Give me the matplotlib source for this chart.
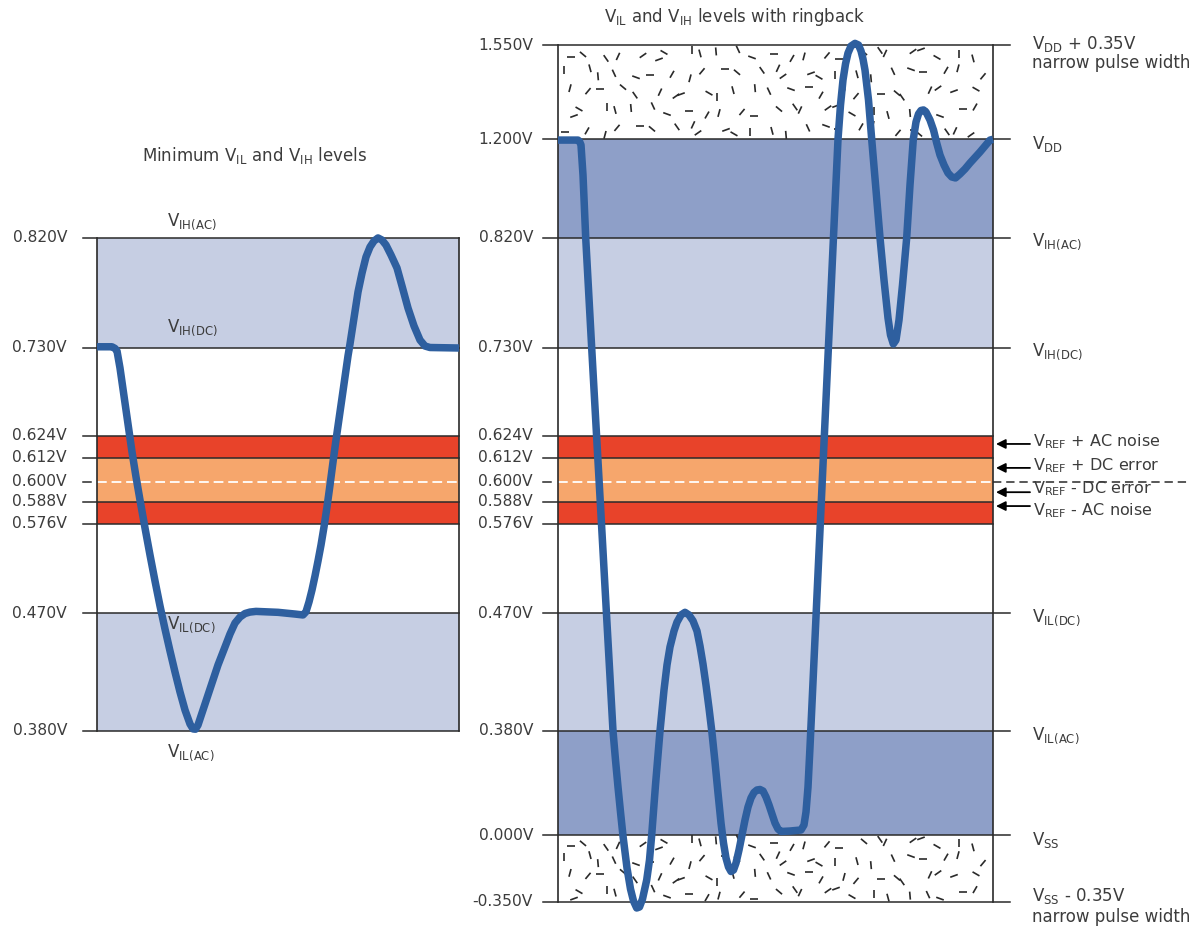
import numpy as np
import matplotlib
matplotlib.use("Agg")
import matplotlib.pyplot as plt
from matplotlib.collections import LineCollection
from matplotlib.transforms import IdentityTransform

# ---------------- data ----------------
LEFT_LEVELS = [0.380, 0.470, 0.576, 0.588, 0.600, 0.612, 0.624, 0.730, 0.820]
RIGHT_LEVELS = [-0.350, 0.000, 0.380, 0.470, 0.576, 0.588, 0.600, 0.612, 0.624,
                0.730, 0.820, 1.200, 1.550]
BAND_LEVELS = [0.576, 0.588, 0.612, 0.624]
VREF = 0.600

# left waveform (time in arbitrary units, voltage in V)
LEFT_T = [0, 15, 18, 20, 23, 27, 31, 35, 39, 43, 48, 53, 58, 63, 68, 73, 78, 83,
          88, 93, 96, 98.5, 101, 105, 110, 115, 121, 128, 133, 138, 143, 148,
          153, 159, 181, 198, 206, 209, 212, 215, 218, 221, 224, 227, 230, 233,
          236, 239, 242, 245, 248, 251, 253, 257, 261, 265, 269, 273, 277, 281,
          285, 289, 294, 300, 305, 311, 317, 323, 328, 333, 362]
LEFT_V = [0.731, 0.731, 0.7295, 0.7265, 0.7059, 0.6722, 0.6385, 0.6152, 0.6024,
          0.589, 0.5707, 0.5387, 0.5079, 0.4784, 0.4577, 0.4409, 0.4248, 0.4095,
          0.3957, 0.385, 0.3812, 0.381, 0.3842, 0.3934, 0.4049, 0.4164, 0.4302,
          0.444, 0.4539, 0.4623, 0.4669, 0.4696, 0.4711, 0.4719, 0.4708, 0.4692,
          0.4685, 0.4715, 0.4831, 0.4973, 0.5138, 0.5316, 0.5505, 0.5719, 0.5851,
          0.598, 0.6098, 0.6218, 0.6445, 0.6697, 0.6951, 0.7204, 0.7333, 0.7545,
          0.7757, 0.7911, 0.8043, 0.8124, 0.8173, 0.8198, 0.8181, 0.814, 0.8059,
          0.7953, 0.7806, 0.7626, 0.748, 0.7365, 0.7316, 0.7304, 0.730]

# right waveform (ringback)
RIGHT_T = [0, 20, 21.5, 23, 25, 27.7, 33.7, 38.7, 42, 45, 48.7, 52, 55, 57.5, 60,
           62.5, 65, 69, 72.5, 75.5, 78.7, 81.5, 84.5, 88.7, 91.5, 93.7, 97.5,
           102, 106, 109, 112, 116, 119, 123, 127, 131, 135, 139, 142, 145, 148,
           151, 154, 157, 160, 163, 165.5, 168, 170.5, 173, 175.5, 178, 181, 184,
           187, 190, 193, 196, 199, 202, 205, 208, 211, 214, 217, 220, 223, 232,
           243, 246, 248, 250, 252, 255, 258.7, 262, 266, 269.5, 273, 276.5, 280,
           282.5, 285, 287.5, 290, 293, 297, 300.5, 303, 305, 307, 310.5, 313.7,
           318, 322, 326, 330, 332.5, 335.3, 338, 341, 344.5, 348.7, 352, 355.3,
           358, 360.5, 363, 365.5, 368, 372, 375.5, 378.7, 382, 386, 390, 393.7,
           397.5, 402, 407, 412, 422, 432, 435]
RIGHT_V = [1.197, 1.197, 1.192, 1.178, 1.062, 0.820, 0.730, 0.6229, 0.5908,
           0.5434, 0.4662, 0.421, 0.378, 0.2727, 0.1746, 0.0836, -0.0052, -0.1724,
           -0.2821, -0.3448, -0.3814, -0.3761, -0.3343, -0.2351, -0.1306, 0.000,
           0.182, 0.378, 0.411, 0.4302, 0.444, 0.4562, 0.463, 0.4685, 0.4708,
           0.4685, 0.464, 0.4562, 0.4447, 0.4309, 0.4148, 0.3972, 0.3709, 0.2655,
           0.1528, 0.0436, -0.0418, -0.1202, -0.1672, -0.1907, -0.1829, -0.1463,
           -0.0784, 0.000, 0.0546, 0.1018, 0.1346, 0.1546, 0.1637, 0.1655, 0.160,
           0.1382, 0.1091, 0.0764, 0.0437, 0.0218, 0.0127, 0.0145, 0.0182, 0.0364,
           0.0837, 0.1746, 0.320, 0.4171, 0.4835, 0.5683, 0.6201, 0.7071, 0.7765,
           0.908, 1.200, 1.327, 1.420, 1.4795, 1.520, 1.546, 1.556, 1.550, 1.528,
           1.498, 1.457, 1.346, 1.200, 1.004, 0.820, 0.7855, 0.7545, 0.7406,
           0.7333, 0.7365, 0.7528, 0.7814, 0.820, 1.0236, 1.200, 1.2642, 1.294,
           1.307, 1.309, 1.3013, 1.2717, 1.2345, 1.1857, 1.1394, 1.1008, 1.070,
           1.0546, 1.0507, 1.066, 1.0854, 1.1085, 1.151, 1.197, 1.200]

LEFT_TITLE = r"Minimum V$_{\mathrm{IL}}$ and V$_{\mathrm{IH}}$ levels"
RIGHT_TITLE = r"V$_{\mathrm{IL}}$ and V$_{\mathrm{IH}}$ levels with ringback"

LEFT_NAMES = [(0.820, r"V$_{\mathrm{IH(AC)}}$", 16), (0.730, r"V$_{\mathrm{IH(DC)}}$", 20),
              (0.470, r"V$_{\mathrm{IL(DC)}}$", -12), (0.380, r"V$_{\mathrm{IL(AC)}}$", -22)]
RIGHT_NAMES = [(1.550, r"V$_{\mathrm{DD}}$ + 0.35V", 1), (1.550, "narrow pulse width", -18),
               (1.200, r"V$_{\mathrm{DD}}$", -5), (0.820, r"V$_{\mathrm{IH(AC)}}$", -4),
               (0.730, r"V$_{\mathrm{IH(DC)}}$", -4), (0.470, r"V$_{\mathrm{IL(DC)}}$", -5),
               (0.380, r"V$_{\mathrm{IL(AC)}}$", -5), (0.000, r"V$_{\mathrm{SS}}$", -5),
               (-0.350, r"V$_{\mathrm{SS}}$ - 0.35V", 6), (-0.350, "narrow pulse width", -15)]
VREF_NOTES = [r"V$_{\mathrm{REF}}$ + AC noise", r"V$_{\mathrm{REF}}$ + DC error",
              r"V$_{\mathrm{REF}}$ - DC error", r"V$_{\mathrm{REF}}$ - AC noise"]
NOTE_V = [0.6207, 0.6079, 0.5956, 0.5829]    # where each note sits
ARROW_V = [0.6196, 0.6069, 0.5937, 0.5856]   # where each arrow points

# ---------------- style ----------------
LIGHT = "#c6cee3"
MID = "#8e9fc8"
RED = "#e8432a"
ORANGE = "#f6a66c"
WAVE = "#2e5f9f"
INK = "#2a2a2a"
TXT = "#3c3c3c"
FS_TICK = 11.2
FS_LAB = 12
FS_NOTE = 11.5
FS_TITLE = 12

plt.rcParams["font.family"] = ["DejaVu Sans"]
plt.rcParams["mathtext.fontset"] = "dejavusans"
plt.rcParams["lines.scale_dashes"] = False

W, H = 1197, 932
# vertical layout of the schematic (level -> position from top, pixels)
POS_V = np.array(RIGHT_LEVELS)
POS_P = -np.array([902, 835, 730.5, 613, 523.5, 501.7, 481.7, 457.7, 436, 348,
                   237.7, 139.3, 45.0])


def fwd(v):
    v = np.asarray(v, float)
    p = np.interp(v, POS_V, POS_P)
    s0 = (POS_P[1] - POS_P[0]) / (POS_V[1] - POS_V[0])
    s1 = (POS_P[-1] - POS_P[-2]) / (POS_V[-1] - POS_V[-2])
    p = np.where(v < POS_V[0], POS_P[0] + (v - POS_V[0]) * s0, p)
    p = np.where(v > POS_V[-1], POS_P[-1] + (v - POS_V[-1]) * s1, p)
    return p


def inv(p):
    p = np.asarray(p, float)
    v = np.interp(p, POS_P, POS_V)
    s0 = (POS_V[1] - POS_V[0]) / (POS_P[1] - POS_P[0])
    s1 = (POS_V[-1] - POS_V[-2]) / (POS_P[-1] - POS_P[-2])
    v = np.where(p < POS_P[0], POS_V[0] + (p - POS_P[0]) * s0, v)
    v = np.where(p > POS_P[-1], POS_V[-1] + (p - POS_P[-1]) * s1, v)
    return v


fig = plt.figure(figsize=(W / 100, H / 100), dpi=100)
fig.patch.set_facecolor("white")

L_X0, L_W = 97, 362
R_X0, R_W = 558, 435
axL = fig.add_axes([L_X0 / W, 0, L_W / W, 1])
axR = fig.add_axes([R_X0 / W, 0, R_W / W, 1])
for ax, w in ((axL, L_W), (axR, R_W)):
    ax.set_yscale("function", functions=(fwd, inv))
    ax.set_ylim(float(inv(-H)), float(inv(0)))
    ax.set_xlim(0, w)
    ax.axis("off")


def bands(ax, spec):
    for lo, hi, c in spec:
        ax.axhspan(lo, hi, xmin=0, xmax=1, color=c, lw=0, zorder=1)


red_orange = [(0.576, 0.588, RED), (0.588, 0.612, ORANGE), (0.612, 0.624, RED)]
bands(axL, [(0.380, 0.470, LIGHT), (0.730, 0.820, LIGHT)] + red_orange)
bands(axR, [(0.000, 0.380, MID), (0.380, 0.470, LIGHT), (0.730, 0.820, LIGHT),
            (0.820, 1.200, MID)] + red_orange)


def hatch(ax, lo, hi, nrows):
    # scattered short dashes (noise texture)
    x0, ytop = ax.transData.transform((0, hi))
    x1, ybot = ax.transData.transform((ax.get_xlim()[1], lo))
    JX = [3, -5, 6, -2, 0, -6, 4, -3, 5, -1, 2, -4, 7]
    JY = [-3, 2, 0, 4, -4, 1, -2, 3, -1, 5, -5]
    ANG = [0, 60, 115, 90, 35, 140, 75, 160, 105, 20, 125, 50, 0, 95, 150, 65]
    segs = []
    step = 17
    ncols = int((x1 - x0 - 8) // step)
    rowh = (ytop - ybot) / nrows
    for j in range(nrows):
        for i in range(ncols):
            cx = x0 + 10 + i * step + JX[(3 * i + 5 * j) % len(JX)]
            cy = ytop - rowh * (j + 0.5) + JY[(2 * i + 7 * j) % len(JY)]
            cx = min(max(cx, x0 + 6), x1 - 6)
            a = np.deg2rad(ANG[(5 * i + 3 * j) % len(ANG)])
            dx, dy = 4.0 * np.cos(a), 4.0 * np.sin(a)
            segs.append([(cx - dx, cy - dy), (cx + dx, cy + dy)])
    lc = LineCollection(segs, colors=INK, linewidths=1.2, transform=IdentityTransform(),
                        zorder=2)
    ax.add_collection(lc)


hatch(axR, 1.200, 1.550, 5)
hatch(axR, -0.350, 0.000, 4)

# level lines and tick labels
tL = axL.get_yaxis_transform()
tR = axR.get_yaxis_transform()
for v in LEFT_LEVELS:
    if v == VREF:
        axL.plot([-14 / L_W, -6 / L_W], [v, v], color=INK, lw=1.1, transform=tL,
                 clip_on=False, zorder=3)
    else:
        axL.plot([-14 / L_W, 1], [v, v], color=INK, lw=1.1, transform=tL,
                 clip_on=False, zorder=3)
    axL.annotate(f"{v:.3f}V", xy=(0, v), xycoords=tL, xytext=(-30, 0),
                 textcoords="offset pixels", ha="right", va="center",
                 fontsize=FS_TICK, color=TXT)
for v in RIGHT_LEVELS:
    if v == VREF:
        axR.plot([-15 / R_W, -7 / R_W], [v, v], color=INK, lw=1.1, transform=tR,
                 clip_on=False, zorder=3)
        axR.plot([1, 1 + 197 / R_W], [v, v], color=INK, lw=1.1, transform=tR,
                 clip_on=False, zorder=3, linestyle=(0, (6, 3.5)))
    else:
        right = 1 if v in BAND_LEVELS else 1 + 17 / R_W
        axR.plot([-15 / R_W, right], [v, v], color=INK, lw=1.1, transform=tR,
                 clip_on=False, zorder=3)
    axR.annotate(f"{v:.3f}V", xy=(0, v), xycoords=tR, xytext=(-25, 0),
                 textcoords="offset pixels", ha="right", va="center",
                 fontsize=FS_TICK, color=TXT)

# white dashed VREF lines inside boxes
for ax, t in ((axL, tL), (axR, tR)):
    ax.plot([0, 1], [VREF, VREF], color="white", lw=1.3, transform=t,
            linestyle=(0, (7, 3.5)), zorder=3)

# box edges
axL.plot([0, 0], [0.380, 0.820], color=INK, lw=1.2, zorder=3, clip_on=False)
axL.plot([L_W, L_W], [0.380, 0.820], color=INK, lw=1.2, zorder=3, clip_on=False)
axR.plot([0, 0], [-0.350, 1.550], color=INK, lw=1.2, zorder=3, clip_on=False)
axR.plot([R_W, R_W], [-0.350, 1.550], color=INK, lw=1.2, zorder=3, clip_on=False)

# waveforms
for ax, t, v in ((axL, LEFT_T, LEFT_V), (axR, RIGHT_T, RIGHT_V)):
    ax.plot(t, v, color=WAVE, lw=5.4, solid_joinstyle="round",
            solid_capstyle="butt", zorder=5, clip_on=False)

# names in left panel
for v, s, dy in LEFT_NAMES:
    axL.annotate(s, xy=(70 / L_W, v), xycoords=tL, xytext=(0, dy),
                 textcoords="offset pixels", ha="left", va="center",
                 fontsize=FS_LAB, color=TXT, zorder=6)

# names at right of right panel
for v, s, dy in RIGHT_NAMES:
    axR.annotate(s, xy=(1 + 39 / R_W, v), xycoords=tR, xytext=(0, dy),
                 textcoords="offset pixels", ha="left", va="center",
                 fontsize=FS_LAB, color=TXT, annotation_clip=False)

# VREF arrows and notes
for s, vn, va in zip(VREF_NOTES, NOTE_V, ARROW_V):
    axR.annotate("", xy=(1 + 3 / R_W, va), xycoords=tR,
                 xytext=(1 + 37 / R_W, va), textcoords=tR,
                 arrowprops=dict(arrowstyle="-|>", color="black", lw=1.3,
                                 mutation_scale=14, shrinkA=0, shrinkB=0),
                 annotation_clip=False)
    axR.annotate(s, xy=(1 + 40 / R_W, vn), xycoords=tR, ha="left", va="center",
                 fontsize=FS_NOTE, color=TXT, annotation_clip=False)

# titles
fig.text(255 / W, 1 - 155 / H, LEFT_TITLE, ha="center", va="center",
         fontsize=FS_TITLE, color=TXT)
fig.text(735 / W, 1 - 17 / H, RIGHT_TITLE, ha="center", va="center",
         fontsize=FS_TITLE, color=TXT)

fig.savefig("out.png", dpi=100, facecolor="white")
